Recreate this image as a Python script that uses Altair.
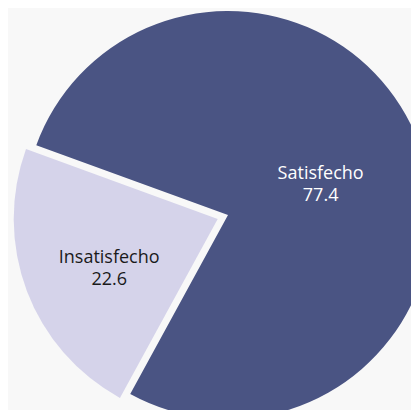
import math
import altair as alt
import pandas as pd

cats = ["Satisfecho", "Insatisfecho"]
vals = [77.4, 22.6]
order = [0, 1]
colors = ["#4a5483", "#d5d3ea"]
text_colors = ["#ffffff", "#1a1a1a"]

df = pd.DataFrame({"cat": cats, "val": vals, "ord": order})

start = math.radians(-70)
end = start + 2 * math.pi
theta_scale = alt.Scale(domain=[0, 100], range=[start, end])
color_scale = alt.Scale(domain=cats, range=colors)

CX, CY, R = 220, 207, 204
# explode offset for Insatisfecho along its bisector
mid_deg = -70 + 360 * (77.4 + 22.6 / 2) / 100
EX = CX + 11 * math.sin(math.radians(mid_deg))
EY = CY - 11 * math.cos(math.radians(mid_deg))

base = alt.Chart(df).transform_window(
    v1="sum(val)", sort=[{"field": "ord"}], frame=[None, 0]
).transform_calculate(
    v0="datum.v1 - datum.val",
    vm="datum.v1 - datum.val / 2",
    label="[datum.cat, format(datum.val, '.1f')]",
)


def arc_layer(cat, x, y):
    return base.transform_filter(f"datum.cat == '{cat}'").mark_arc(radius=R).encode(
        theta=alt.Theta("v0:Q", scale=theta_scale, stack=None),
        theta2="v1:Q",
        color=alt.Color("cat:N", scale=color_scale, legend=None),
        x=alt.value(x),
        y=alt.value(y),
    )


def text_layer(cat, x, y, r, col, dy):
    return base.transform_filter(f"datum.cat == '{cat}'").mark_text(
        radius=r, fontSize=18, font="Open Sans", lineHeight=22,
        baseline="middle", align="center", color=col, dy=dy,
    ).encode(
        theta=alt.Theta("vm:Q", scale=theta_scale, stack=None),
        text="label:N",
        x=alt.value(x),
        y=alt.value(y),
    )


chart = alt.layer(
    arc_layer("Satisfecho", CX, CY),
    arc_layer("Insatisfecho", EX, EY),
    text_layer("Satisfecho", CX, CY, 99, text_colors[0], -6),
    text_layer("Insatisfecho", EX, EY, 116, text_colors[1], -2),
).properties(
    width=403, height=402, padding=0, autosize=alt.AutoSizeParams(type="none"),
    background="#f8f8f8",
).configure_view(stroke=None)

chart.save("out.html", embed_options={"renderer": "svg", "actions": False})
